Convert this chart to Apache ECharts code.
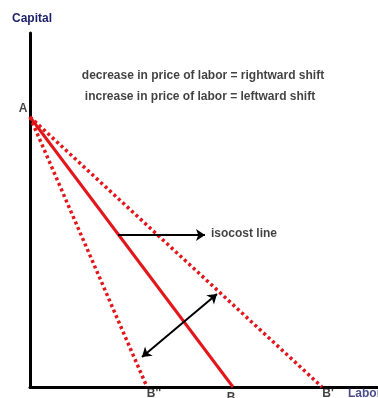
<!DOCTYPE html>
<html>
<head>
<meta charset="utf-8">
<script src="https://cdn.jsdelivr.net/npm/echarts@6/dist/echarts.min.js"></script>
<style>
  html, body { margin: 0; padding: 0; background: #fff; }
  #chart { width: 378px; height: 398px; }
</style>
</head>
<body>
<div id="chart"></div>
<script>
// isocost lines: all start at A on the capital axis, end on the labor axis
const capitalIntercept = 270;
const lineLabels = ["B''", 'B', "B'"];
const laborIntercepts = [117, 203, 292];
const lineDashed = [true, false, true];
const labelPos = [[124, -7], [201, -11], [298, -7]];

// arrows (labor, capital)
const isocostArrow = [[88, 152], [175, 152]];
const shiftArrow = [[112, 30], [187, 93]];

// annotation text and where its centre sits (labor, capital)
const notes = [
    'decrease in price of labor = rightward shift',
    'increase in price of labor = leftward shift',
    'isocost line'
];
const notePos = [[173, 311], [170, 290], [214, 153]];

const red = '#e3161b';
const font = 'Liberation Sans, Arial, sans-serif';

const chart = echarts.init(document.getElementById('chart'));

const lineSeries = laborIntercepts.map(function (b, i) {
    return {
        type: 'line',
        data: [[0, capitalIntercept], [b, 0]],
        symbol: 'none',
        silent: true,
        lineStyle: {
            color: red,
            width: lineDashed[i] ? 3.5 : 3,
            type: lineDashed[i] ? [3, 3] : 'solid',
            cap: 'butt'
        },
        z: 3
    };
});

chart.setOption({
    animation: false,
    grid: { left: 30, right: 0, top: 33, bottom: 11 },
    xAxis: {
        type: 'value', min: 0, max: 348,
        axisLine: { lineStyle: { color: '#000', width: 3 } },
        axisTick: { show: false }, axisLabel: { show: false }, splitLine: { show: false }
    },
    yAxis: {
        type: 'value', min: 0, max: 354,
        name: 'Capital', nameLocation: 'end', nameGap: 8,
        nameTextStyle: { color: '#1c1f6b', fontWeight: 'bold', fontSize: 12, fontFamily: font, align: 'center', padding: [0, 0, 0, 4] },
        axisLine: { lineStyle: { color: '#000', width: 3 } },
        axisTick: { show: false }, axisLabel: { show: false }, splitLine: { show: false }
    },
    series: lineSeries.concat([
        {
            type: 'lines',
            coordinateSystem: 'cartesian2d',
            silent: true,
            symbol: ['none', 'arrow'],
            symbolSize: 9,
            lineStyle: { color: '#000', width: 2, opacity: 1 },
            data: [{ coords: isocostArrow }],
            z: 4
        },
        {
            type: 'lines',
            coordinateSystem: 'cartesian2d',
            silent: true,
            symbol: ['arrow', 'arrow'],
            symbolSize: 9,
            lineStyle: { color: '#000', width: 2, opacity: 1 },
            data: [{ coords: shiftArrow }],
            z: 4
        },
        {
            type: 'scatter',
            silent: true,
            clip: false,
            symbolSize: 0,
            label: {
                show: true, position: 'inside', color: '#111',
                fontWeight: 'bold', fontSize: 12, fontFamily: font,
                formatter: function (p) { return p.data[2]; }
            },
            data: notes.map(function (t, i) { return [notePos[i][0], notePos[i][1], t]; })
                .concat([[-7, capitalIntercept + 8, 'A']])
                .concat(labelPos.map(function (p, i) { return [p[0], p[1], lineLabels[i]]; }))
        },
        {
            type: 'scatter',
            silent: true,
            clip: false,
            symbolSize: 0,
            label: {
                show: true, position: 'inside', color: '#1c1f6b',
                fontWeight: 'bold', fontSize: 12, fontFamily: font, align: 'left',
                formatter: function (p) { return p.data[2]; }
            },
            data: [[318, -7, 'Labor']]
        }
    ])
});
</script>
</body>
</html>
